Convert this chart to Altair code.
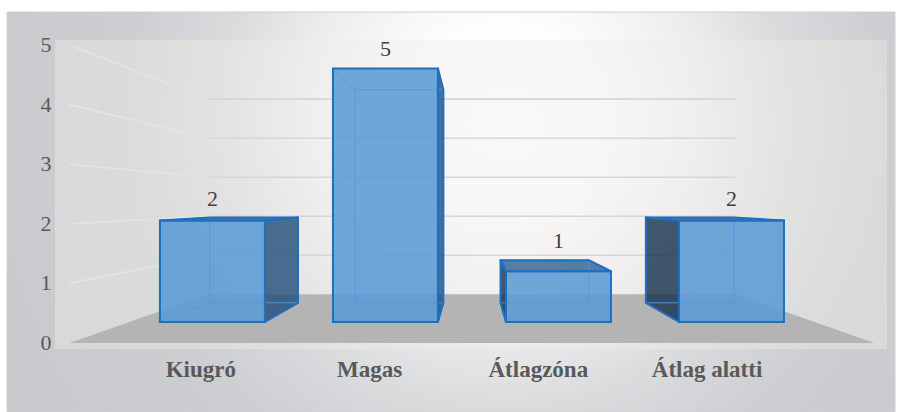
import altair as alt
import pandas as pd

# ---- data -------------------------------------------------------------
categories = ["Kiugró", "Magas", "Átlagzóna", "Átlag alatti"]
counts = [2, 5, 1, 2]
y_ticks = [0, 1, 2, 3, 4, 5]

# ---- 3-D scene geometry (x in category slots, y in value units) -------
VP_X, VP_Y = 1.5, 2.366          # vanishing point
S_FRONT, S_BACK = 0.851, 0.715   # perspective scale of box front / back faces
S_FLOOR, S_WALL = 1.0, 0.655     # floor front edge / back wall
S_LABEL = 0.83                   # depth of the category labels
HALF_W = 0.3035                  # half width of a box
WALL_L, WALL_R = -0.48, 3.48     # side extent of floor and walls


def proj(x, v, s):
    """Perspective projection of a scene point towards the vanishing point."""
    return VP_X + s * (x - VP_X), VP_Y + s * (v - VP_Y)


X_SCALE = alt.Scale(domain=[-0.55091, 3.61535], nice=False, zero=False)
Y_SCALE = alt.Scale(domain=[-1.15772, 5.75503], nice=False, zero=False)
SERIF = "Liberation Serif, Times New Roman, serif"

BLUE_FILL = "#5b9bd5"
BLUE_EDGE = "#1f6fc1"
BLUE_INNER = "#4d9be0"

# ---- build scene tables ----------------------------------------------
grid_side, grid_back, tick_rows = [], [], []
for v in y_ticks:
    x0, y0 = proj(WALL_L, v, S_FLOOR)
    tick_rows.append(dict(x=x0, y=y0, label=str(v)))
    if v == 0:
        continue
    x1, y1 = proj(WALL_L, v, S_WALL)
    x2, y2 = proj(WALL_R, v, S_WALL)
    grid_side.append(dict(x=x0, y=y0, x2=x1, y2=y1))
    grid_back.append(dict(x=x1, y=y1, x2=x2, y2=y2))

fb_l, fb_y = proj(WALL_L, 0, S_WALL)
fb_r, _ = proj(WALL_R, 0, S_WALL)
ff_l, ff_y = proj(WALL_L, 0, S_FLOOR)
ff_r, _ = proj(WALL_R, 0, S_FLOOR)
floor = [dict(y=fb_y, x=fb_l, x2=fb_r), dict(y=ff_y, x=ff_l, x2=ff_r)]

side_rows, top_rows, front_rows, inner_rows, value_rows, cat_rows = [], [], [], [], [], []
for i, (cat, v) in enumerate(zip(categories, counts)):
    left, right = i - HALF_W, i + HALF_W
    fl, fb = proj(left, 0, S_FRONT)
    fr, ft = proj(right, v, S_FRONT)
    bl, bb = proj(left, 0, S_BACK)
    br, bt = proj(right, v, S_BACK)

    front_rows.append(dict(box=cat, x=fl, x2=fr, y=fb, y2=ft))

    # side face turned towards the vanishing point
    if i < VP_X:
        side, fx, bx = "right", fr, br
    else:
        side, fx, bx = "left", fl, bl
    side_rows.append(dict(box=cat, side=side, x=fx, y=ft, y2=fb))
    side_rows.append(dict(box=cat, side=side, x=bx, y=bt, y2=bb))

    # top face is seen from above only when it is below eye level
    if v < VP_Y:
        top_rows.append(dict(box=cat, y=bt, x=bl, x2=br))
        top_rows.append(dict(box=cat, y=ft, x=fl, x2=fr))

    # edges seen through the transparent front
    inner_rows += [
        dict(x=bl, y=bb, x2=br, y2=bb), dict(x=bl, y=bt, x2=br, y2=bt),
        dict(x=bl, y=bb, x2=bl, y2=bt), dict(x=br, y=bb, x2=br, y2=bt),
        dict(x=fl, y=fb, x2=bl, y2=bb), dict(x=fr, y=fb, x2=br, y2=bb),
        dict(x=fl, y=ft, x2=bl, y2=bt), dict(x=fr, y=ft, x2=br, y2=bt),
    ]

    cx, _ = proj(i, v, S_FRONT)
    value_rows.append(dict(x=cx, y=max(ft, bt), label=str(v)))
    lx, _ = proj(i, 0, S_LABEL)
    cat_rows.append(dict(x=lx, y=ff_y, label=cat))

one = pd.DataFrame({"k": [0]})


def xq():
    return alt.X("x:Q", scale=X_SCALE, axis=None)


def yq():
    return alt.Y("y:Q", scale=Y_SCALE, axis=None)


# ---- layers -----------------------------------------------------------
panel = alt.Chart(one).mark_rect(
    fill={
        "gradient": "radial",
        "x1": 0.56, "y1": 0.4, "r1": 0.0,
        "x2": 0.56, "y2": 0.4, "r2": 0.62,
        "stops": [
            {"offset": 0.0, "color": "#ffffff"},
            {"offset": 0.18, "color": "#fdfdfd"},
            {"offset": 0.35, "color": "#efeff0"},
            {"offset": 0.52, "color": "#dadbdd"},
            {"offset": 0.7, "color": "#cdced1"},
            {"offset": 1.0, "color": "#c8c9cc"},
        ],
    },
    stroke="#cfcfcf", strokeWidth=1,
).encode(x=alt.value(-48), x2=alt.value(840), y=alt.value(12), y2=alt.value(412))

plot_area = alt.Chart(one).mark_rect(fill="#f1eee9", opacity=0.4).encode(
    x=alt.value(0), x2=alt.value(832), y=alt.value(40), y2=alt.value(349)
)

grid_back_layer = alt.Chart(pd.DataFrame(grid_back)).mark_rule(
    color="#d6d6d6", strokeWidth=1.6
).encode(x=xq(), y=yq(), x2="x2:Q", y2="y2:Q")

grid_side_layer = alt.Chart(pd.DataFrame(grid_side)).mark_rule(
    color="#e4e4e4", strokeWidth=1.6
).encode(x=xq(), y=yq(), x2="x2:Q", y2="y2:Q")

tick_labels = alt.Chart(pd.DataFrame(tick_rows)).mark_text(
    font=SERIF, fontSize=22, color="#595959", align="right", baseline="middle", dx=-18
).encode(x=xq(), y=yq(), text="label:N")

floor_layer = alt.Chart(pd.DataFrame(floor)).mark_area(
    orient="horizontal", color="#b4b4b4"
).encode(y=yq(), x=xq(), x2="x2:Q")

side_color = alt.Color("side:N", scale=alt.Scale(domain=["left", "right"],
                                                 range=["#14304c", "#1f4e79"]), legend=None)

side_fill = alt.Chart(pd.DataFrame(side_rows)).mark_area(
    orient="vertical", opacity=0.8
).encode(x=xq(), y=yq(), y2="y2:Q", color=side_color, detail="box:N")

top_fill = alt.Chart(pd.DataFrame(top_rows)).mark_area(
    orient="horizontal", color="#2e5f8f", opacity=0.8
).encode(y=yq(), x=xq(), x2="x2:Q", detail="box:N")

front_fill = alt.Chart(pd.DataFrame(front_rows)).mark_rect(
    color=BLUE_FILL, opacity=0.88
).encode(x=xq(), x2="x2:Q", y=yq(), y2="y2:Q")

inner_edges = alt.Chart(pd.DataFrame(inner_rows)).mark_rule(
    color=BLUE_INNER, strokeWidth=1, opacity=0.9
).encode(x=xq(), y=yq(), x2="x2:Q", y2="y2:Q")

side_edge = alt.Chart(pd.DataFrame(side_rows)).mark_area(
    orient="vertical", fillOpacity=0, stroke=BLUE_EDGE, strokeWidth=2, strokeJoin="round"
).encode(x=xq(), y=yq(), y2="y2:Q", detail="box:N")

top_edge = alt.Chart(pd.DataFrame(top_rows)).mark_area(
    orient="horizontal", fillOpacity=0, stroke=BLUE_EDGE, strokeWidth=2, strokeJoin="round"
).encode(y=yq(), x=xq(), x2="x2:Q", detail="box:N")

front_edge = alt.Chart(pd.DataFrame(front_rows)).mark_rect(
    fillOpacity=0, stroke=BLUE_EDGE, strokeWidth=2
).encode(x=xq(), x2="x2:Q", y=yq(), y2="y2:Q")

value_labels = alt.Chart(pd.DataFrame(value_rows)).mark_text(
    font=SERIF, fontSize=22, color="#404040", baseline="alphabetic", dy=-12
).encode(x=xq(), y=yq(), text="label:N")

cat_labels = alt.Chart(pd.DataFrame(cat_rows)).mark_text(
    font=SERIF, fontSize=23, fontWeight="bold", color="#595959",
    baseline="alphabetic", dy=34, dx=-18
).encode(x=xq(), y=yq(), text="label:N")

chart = alt.layer(
    panel, plot_area, grid_back_layer, grid_side_layer, tick_labels, floor_layer,
    side_fill, top_fill, front_fill, inner_edges,
    side_edge, top_edge, front_edge, value_labels, cat_labels,
).properties(
    width=847, height=412, autosize="none", background="white",
    padding={"left": 55, "top": 0, "right": 0, "bottom": 0},
).configure_view(strokeWidth=0)

chart.save("out.html", embed_options={"renderer": "svg", "actions": False})
